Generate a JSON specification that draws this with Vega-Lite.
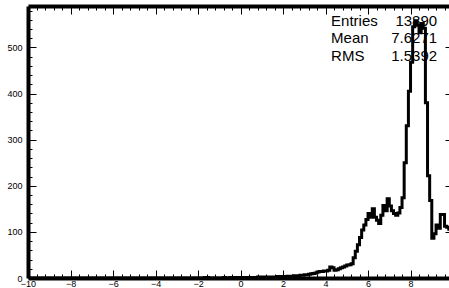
{
  "$schema": "https://vega.github.io/schema/vega-lite/v6.json",
  "width": 421,
  "height": 272,
  "autosize": {"type": "none"},
  "padding": {"left": 28, "top": 6, "right": 0, "bottom": 10},
  "background": "white",
  "config": {
    "view": {"stroke": null},
    "font": "Liberation Sans",
    "text": {"fontSize": 15, "font": "Liberation Sans", "color": "black", "baseline": "middle"},
    "axis": {"grid": false, "title": null, "labelFont": "Liberation Sans", "labelFontSize": 9, "labelColor": "black", "tickColor": "black", "domainColor": "black", "tickWidth": 1, "labelFlush": false, "labelOverlap": false, "labelBound": false}
  },
  "datasets": {
    "stats": [
      {"stat": "Entries", "value": "13890"},
      {"stat": "Mean", "value": "7.6271"},
      {"stat": "RMS", "value": "1.5392"}
    ],
    "hist": [
      {"x": -10, "n": 0}, {"x": -9.9, "n": 0}, {"x": -9.8, "n": 0}, {"x": -9.7, "n": 0}, {"x": -9.6, "n": 0}, {"x": -9.5, "n": 0}, {"x": -9.4, "n": 0}, {"x": -9.3, "n": 0}, {"x": -9.2, "n": 0}, {"x": -9.1, "n": 0},
      {"x": -9, "n": 0}, {"x": -8.9, "n": 0}, {"x": -8.8, "n": 0}, {"x": -8.7, "n": 0}, {"x": -8.6, "n": 0}, {"x": -8.5, "n": 0}, {"x": -8.4, "n": 0}, {"x": -8.3, "n": 0}, {"x": -8.2, "n": 0}, {"x": -8.1, "n": 0},
      {"x": -8, "n": 0}, {"x": -7.9, "n": 0}, {"x": -7.8, "n": 0}, {"x": -7.7, "n": 0}, {"x": -7.6, "n": 0}, {"x": -7.5, "n": 0}, {"x": -7.4, "n": 0}, {"x": -7.3, "n": 0}, {"x": -7.2, "n": 0}, {"x": -7.1, "n": 0},
      {"x": -7, "n": 0}, {"x": -6.9, "n": 0}, {"x": -6.8, "n": 0}, {"x": -6.7, "n": 0}, {"x": -6.6, "n": 0}, {"x": -6.5, "n": 0}, {"x": -6.4, "n": 0}, {"x": -6.3, "n": 0}, {"x": -6.2, "n": 0}, {"x": -6.1, "n": 0},
      {"x": -6, "n": 0}, {"x": -5.9, "n": 0}, {"x": -5.8, "n": 0}, {"x": -5.7, "n": 0}, {"x": -5.6, "n": 0}, {"x": -5.5, "n": 0}, {"x": -5.4, "n": 0}, {"x": -5.3, "n": 0}, {"x": -5.2, "n": 0}, {"x": -5.1, "n": 0},
      {"x": -5, "n": 0}, {"x": -4.9, "n": 0}, {"x": -4.8, "n": 0}, {"x": -4.7, "n": 0}, {"x": -4.6, "n": 0}, {"x": -4.5, "n": 0}, {"x": -4.4, "n": 0}, {"x": -4.3, "n": 0}, {"x": -4.2, "n": 0}, {"x": -4.1, "n": 0},
      {"x": -4, "n": 0}, {"x": -3.9, "n": 0}, {"x": -3.8, "n": 0}, {"x": -3.7, "n": 0}, {"x": -3.6, "n": 0}, {"x": -3.5, "n": 0}, {"x": -3.4, "n": 0}, {"x": -3.3, "n": 0}, {"x": -3.2, "n": 0}, {"x": -3.1, "n": 0},
      {"x": -3, "n": 0}, {"x": -2.9, "n": 0}, {"x": -2.8, "n": 0}, {"x": -2.7, "n": 0}, {"x": -2.6, "n": 0}, {"x": -2.5, "n": 0}, {"x": -2.4, "n": 0}, {"x": -2.3, "n": 0}, {"x": -2.2, "n": 0}, {"x": -2.1, "n": 0},
      {"x": -2, "n": 0}, {"x": -1.9, "n": 0}, {"x": -1.8, "n": 0}, {"x": -1.7, "n": 1}, {"x": -1.6, "n": 1}, {"x": -1.5, "n": 0}, {"x": -1.4, "n": 0}, {"x": -1.3, "n": 0}, {"x": -1.2, "n": 0}, {"x": -1.1, "n": 0},
      {"x": -1, "n": 0}, {"x": -0.9, "n": 0}, {"x": -0.8, "n": 1}, {"x": -0.7, "n": 0}, {"x": -0.6, "n": 0}, {"x": -0.5, "n": 1}, {"x": -0.4, "n": 0}, {"x": -0.3, "n": 1}, {"x": -0.2, "n": 0}, {"x": -0.1, "n": 1},
      {"x": 0, "n": 1}, {"x": 0.1, "n": 0}, {"x": 0.2, "n": 1}, {"x": 0.3, "n": 1}, {"x": 0.4, "n": 1}, {"x": 0.5, "n": 0}, {"x": 0.6, "n": 1}, {"x": 0.7, "n": 1}, {"x": 0.8, "n": 2}, {"x": 0.9, "n": 1},
      {"x": 1, "n": 2}, {"x": 1.1, "n": 1}, {"x": 1.2, "n": 2}, {"x": 1.3, "n": 2}, {"x": 1.4, "n": 1}, {"x": 1.5, "n": 2}, {"x": 1.6, "n": 2}, {"x": 1.7, "n": 3}, {"x": 1.8, "n": 2}, {"x": 1.9, "n": 3},
      {"x": 2, "n": 3}, {"x": 2.1, "n": 3}, {"x": 2.2, "n": 4}, {"x": 2.3, "n": 3}, {"x": 2.4, "n": 4}, {"x": 2.5, "n": 5}, {"x": 2.6, "n": 4}, {"x": 2.7, "n": 5}, {"x": 2.8, "n": 6}, {"x": 2.9, "n": 6},
      {"x": 3, "n": 7}, {"x": 3.1, "n": 7}, {"x": 3.2, "n": 8}, {"x": 3.3, "n": 9}, {"x": 3.4, "n": 10}, {"x": 3.5, "n": 11}, {"x": 3.6, "n": 13}, {"x": 3.7, "n": 14}, {"x": 3.8, "n": 14}, {"x": 3.9, "n": 15},
      {"x": 4, "n": 15}, {"x": 4.1, "n": 17}, {"x": 4.2, "n": 24}, {"x": 4.3, "n": 22}, {"x": 4.4, "n": 17}, {"x": 4.5, "n": 18}, {"x": 4.6, "n": 20}, {"x": 4.7, "n": 22}, {"x": 4.8, "n": 24}, {"x": 4.9, "n": 26},
      {"x": 5, "n": 28}, {"x": 5.1, "n": 29}, {"x": 5.2, "n": 31}, {"x": 5.3, "n": 44}, {"x": 5.4, "n": 58}, {"x": 5.5, "n": 72}, {"x": 5.6, "n": 88}, {"x": 5.7, "n": 104}, {"x": 5.8, "n": 115}, {"x": 5.9, "n": 127},
      {"x": 6, "n": 140}, {"x": 6.1, "n": 132}, {"x": 6.2, "n": 150}, {"x": 6.3, "n": 132}, {"x": 6.4, "n": 125}, {"x": 6.5, "n": 118}, {"x": 6.6, "n": 136}, {"x": 6.7, "n": 157}, {"x": 6.8, "n": 146}, {"x": 6.9, "n": 172},
      {"x": 7, "n": 156}, {"x": 7.1, "n": 146}, {"x": 7.2, "n": 140}, {"x": 7.3, "n": 136}, {"x": 7.4, "n": 141}, {"x": 7.5, "n": 153}, {"x": 7.6, "n": 174}, {"x": 7.7, "n": 250}, {"x": 7.8, "n": 330}, {"x": 7.9, "n": 405},
      {"x": 8, "n": 468}, {"x": 8.1, "n": 545}, {"x": 8.2, "n": 558}, {"x": 8.3, "n": 548}, {"x": 8.4, "n": 532}, {"x": 8.5, "n": 552}, {"x": 8.6, "n": 542}, {"x": 8.7, "n": 380}, {"x": 8.8, "n": 222}, {"x": 8.9, "n": 168},
      {"x": 9, "n": 86}, {"x": 9.1, "n": 96}, {"x": 9.2, "n": 115}, {"x": 9.3, "n": 108}, {"x": 9.4, "n": 138}, {"x": 9.5, "n": 138}, {"x": 9.6, "n": 112}, {"x": 9.7, "n": 110}, {"x": 9.8, "n": 106}, {"x": 9.9, "n": 104}
    ]
  },
  "layer": [
    {
      "data": {"name": "stats"},
      "transform": [{"filter": "datum.stat == 'Entries'"}],
      "mark": {"type": "text", "align": "left"},
      "encoding": {
        "x": {"datum": 4.26, "type": "quantitative", "scale": {"domain": [-10, 9.81], "nice": false, "zero": false},
          "axis": {"orient": "bottom", "values": [-9.6, -9.2, -8.8, -8.4, -7.6, -7.2, -6.8, -6.4, -5.6, -5.2, -4.8, -4.4, -3.6, -3.2, -2.8, -2.4, -1.6, -1.2, -0.8, -0.4, 0.4, 0.8, 1.2, 1.6, 2.4, 2.8, 3.2, 3.6, 4.4, 4.8, 5.2, 5.6, 6.4, 6.8, 7.2, 7.6, 8.4, 8.8, 9.2, 9.6], "tickSize": -4, "labels": false, "domain": false}},
        "y": {"datum": 557, "type": "quantitative", "scale": {"domain": [0, 590], "nice": false},
          "axis": {"orient": "left", "values": [20, 40, 60, 80, 120, 140, 160, 180, 220, 240, 260, 280, 320, 340, 360, 380, 420, 440, 460, 480, 520, 540, 560, 580], "tickSize": -4, "labels": false, "domain": false}},
        "text": {"field": "stat"}
      }
    },
    {
      "data": {"name": "stats"},
      "transform": [{"filter": "datum.stat == 'Entries'"}],
      "mark": {"type": "text", "align": "right"},
      "encoding": {
        "x": {"datum": 9.25, "type": "quantitative", "scale": {"domain": [-10, 9.81], "nice": false, "zero": false},
          "axis": {"orient": "top", "values": [-9.6, -9.2, -8.8, -8.4, -7.6, -7.2, -6.8, -6.4, -5.6, -5.2, -4.8, -4.4, -3.6, -3.2, -2.8, -2.4, -1.6, -1.2, -0.8, -0.4, 0.4, 0.8, 1.2, 1.6, 2.4, 2.8, 3.2, 3.6, 4.4, 4.8, 5.2, 5.6, 6.4, 6.8, 7.2, 7.6, 8.4, 8.8, 9.2, 9.6], "tickSize": -4, "labels": false, "domain": false}},
        "y": {"datum": 557, "type": "quantitative", "scale": {"domain": [0, 590], "nice": false},
          "axis": {"orient": "right", "values": [100, 200, 300, 400, 500], "tickSize": -4, "labels": false, "domain": false}},
        "text": {"field": "value"}
      }
    },
    {
      "data": {"name": "stats"},
      "transform": [{"filter": "datum.stat == 'Mean'"}],
      "mark": {"type": "text", "align": "left"},
      "encoding": {
        "x": {"datum": 4.26, "type": "quantitative", "axis": null},
        "y": {"datum": 520, "type": "quantitative", "axis": null},
        "text": {"field": "stat"}
      }
    },
    {
      "data": {"name": "stats"},
      "transform": [{"filter": "datum.stat == 'Mean'"}],
      "mark": {"type": "text", "align": "right"},
      "encoding": {
        "x": {"datum": 9.25, "type": "quantitative", "axis": null},
        "y": {"datum": 520, "type": "quantitative", "axis": null},
        "text": {"field": "value"}
      }
    },
    {
      "data": {"name": "stats"},
      "transform": [{"filter": "datum.stat == 'RMS'"}],
      "mark": {"type": "text", "align": "left"},
      "encoding": {
        "x": {"datum": 4.26, "type": "quantitative", "axis": null},
        "y": {"datum": 482, "type": "quantitative", "axis": null},
        "text": {"field": "stat"}
      }
    },
    {
      "data": {"name": "stats"},
      "transform": [{"filter": "datum.stat == 'RMS'"}],
      "mark": {"type": "text", "align": "right"},
      "encoding": {
        "x": {"datum": 9.25, "type": "quantitative", "axis": null},
        "y": {"datum": 482, "type": "quantitative", "axis": null},
        "text": {"field": "value"}
      }
    },
    {
      "data": {"name": "hist"},
      "mark": {"type": "line", "interpolate": "step-after", "color": "black", "strokeWidth": 3, "clip": true},
      "encoding": {
        "x": {"field": "x", "type": "quantitative", "scale": {"domain": [-10, 9.81], "nice": false, "zero": false},
          "axis": {"orient": "bottom", "values": [-10, -8, -6, -4, -2, 0, 2, 4, 6, 8], "tickSize": -8, "labelPadding": 9, "domainWidth": 4}},
        "y": {"field": "n", "type": "quantitative", "scale": {"domain": [0, 590], "nice": false},
          "axis": {"orient": "left", "values": [0, 100, 200, 300, 400, 500], "tickSize": -8, "labelPadding": 14, "domainWidth": 4}}
      }
    },
    {
      "data": {"name": "hist"},
      "mark": {"type": "point", "opacity": 0, "clip": true},
      "encoding": {
        "x": {"field": "x", "type": "quantitative",
          "axis": {"orient": "top", "values": [-10, -8, -6, -4, -2, 0, 2, 4, 6, 8], "tickSize": -8, "labels": false, "domainWidth": 4}},
        "y": {"field": "n", "type": "quantitative", "axis": null}
      }
    }
  ],
  "resolve": {"axis": {"x": "independent", "y": "independent"}}
}
